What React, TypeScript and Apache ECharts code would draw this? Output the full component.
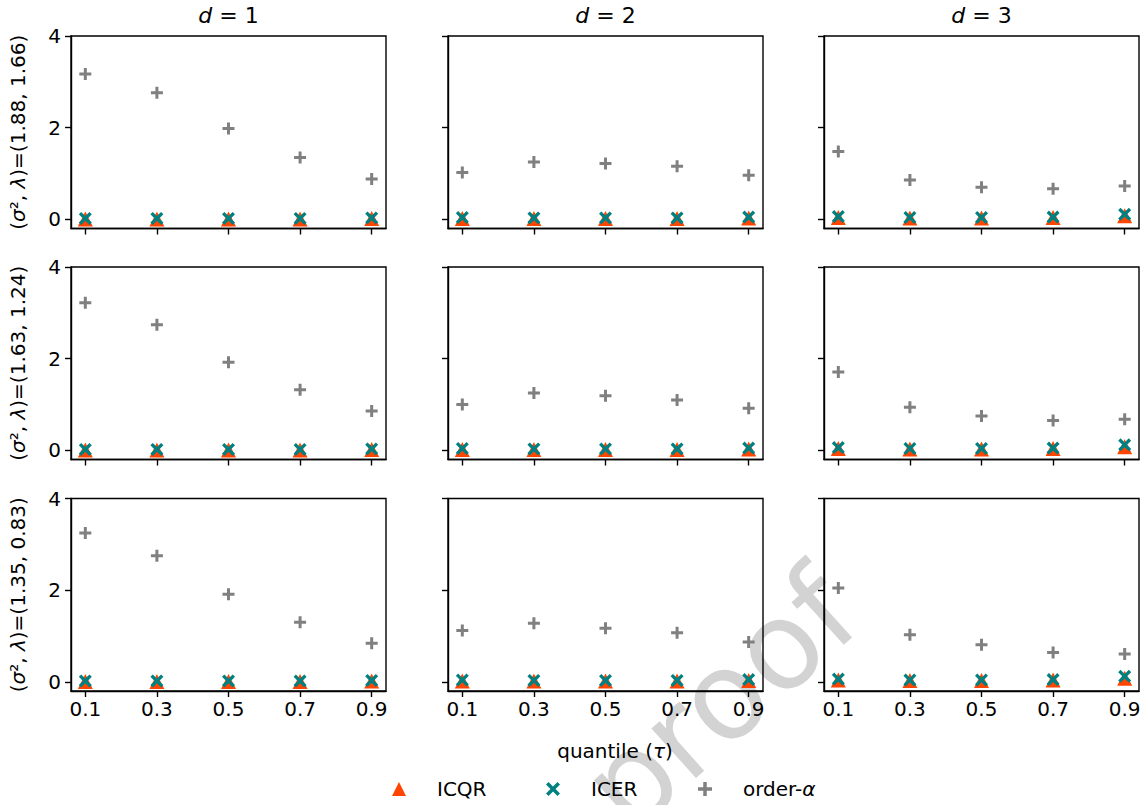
import React, { useEffect, useRef } from "react";
import * as echarts from "echarts";

const taus = [0.1, 0.3, 0.5, 0.7, 0.9];
const tickValsX = [0.1, 0.3, 0.5, 0.7, 0.9];
const tickValsY = [0, 2, 4];
const dimTitles = ["1", "2", "3"];
const rowLabels = [
  ["1.88", "1.66"],
  ["1.63", "1.24"],
  ["1.35", "0.83"],
];

// order-alpha values [row][col]
const orderAlpha = [
  [
    [3.17, 2.76, 1.98, 1.35, 0.88],
    [1.02, 1.25, 1.22, 1.16, 0.96],
    [1.48, 0.86, 0.7, 0.67, 0.73],
  ],
  [
    [3.22, 2.74, 1.92, 1.32, 0.86],
    [1.0, 1.25, 1.19, 1.1, 0.92],
    [1.71, 0.94, 0.75, 0.65, 0.68],
  ],
  [
    [3.25, 2.75, 1.91, 1.3, 0.84],
    [1.12, 1.28, 1.17, 1.07, 0.87],
    [2.05, 1.03, 0.81, 0.64, 0.61],
  ],
];

const icqr = [
  [
    [0.01, 0.01, 0.01, 0.01, 0.02],
    [0.02, 0.02, 0.02, 0.02, 0.03],
    [0.04, 0.03, 0.03, 0.04, 0.08],
  ],
  [
    [0.01, 0.01, 0.01, 0.01, 0.02],
    [0.02, 0.02, 0.02, 0.02, 0.03],
    [0.04, 0.03, 0.03, 0.04, 0.08],
  ],
  [
    [0.01, 0.01, 0.01, 0.01, 0.02],
    [0.02, 0.02, 0.02, 0.02, 0.03],
    [0.04, 0.03, 0.03, 0.04, 0.08],
  ],
];

const icer = [
  [
    [0.02, 0.02, 0.02, 0.02, 0.03],
    [0.04, 0.03, 0.03, 0.03, 0.05],
    [0.06, 0.04, 0.04, 0.05, 0.11],
  ],
  [
    [0.02, 0.02, 0.02, 0.02, 0.03],
    [0.04, 0.03, 0.03, 0.03, 0.05],
    [0.06, 0.04, 0.04, 0.05, 0.12],
  ],
  [
    [0.02, 0.02, 0.02, 0.02, 0.03],
    [0.04, 0.03, 0.03, 0.03, 0.05],
    [0.06, 0.04, 0.04, 0.05, 0.12],
  ],
];

const FONT = "DejaVu Sans";
const PLUS =
  "path://M3.75,0H6.25V3.75H10V6.25H6.25V10H3.75V6.25H0V3.75H3.75Z";
const CROSS =
  "path://M0,1.8L1.8,0L5,3.2L8.2,0L10,1.8L6.8,5L10,8.2L8.2,10L5,6.8L1.8,10L0,8.2L3.2,5Z";

const colLefts = [71, 448, 824];
const rowTops = [36, 267, 498.5];
const GW = 315;
const GH = 192.5;

function buildOption() {
  const grid: any[] = [];
  const xAxis: any[] = [];
  const yAxis: any[] = [];
  const series: any[] = [];
  let idx = 0;
  for (let r = 0; r < 3; r++) {
    for (let c = 0; c < 3; c++) {
      grid.push({
        left: colLefts[c],
        top: rowTops[r],
        width: GW,
        height: GH,
        show: true,
        borderColor: "#000",
        borderWidth: 1.4,
        backgroundColor: "transparent",
        z: 3,
      });
      xAxis.push({
        type: "value",
        gridIndex: idx,
        min: 0.06,
        max: 0.94,
        axisLine: { show: true, onZero: false, lineStyle: { color: "#000", width: 1.4 } },
        axisTick: {
          show: true,
          length: 6,
          customValues: tickValsX,
          lineStyle: { color: "#000", width: 1.4 },
        },
        axisLabel: {
          show: r === 2,
          customValues: tickValsX,
          margin: 8,
          color: "#000",
          fontSize: 20,
          fontFamily: FONT,
          formatter: (v: number) => v.toFixed(1),
        },
        splitLine: { show: false },
      });
      const yA: any = {
        type: "value",
        gridIndex: idx,
        min: -0.2,
        max: 4,
        axisLine: { show: true, onZero: false, lineStyle: { color: "#000", width: 1.4 } },
        axisTick: {
          show: true,
          length: 6,
          customValues: tickValsY,
          lineStyle: { color: "#000", width: 1.4 },
        },
        axisLabel: {
          show: c === 0,
          customValues: tickValsY,
          margin: 10,
          color: "#000",
          fontSize: 20,
          fontFamily: FONT,
        },
        splitLine: { show: false },
      };
      if (c === 0) {
        yA.name = `({i|σ}², {i|λ})=(${rowLabels[r][0]}, ${rowLabels[r][1]})`;
        yA.nameLocation = "middle";
        yA.nameRotate = 90;
        yA.nameGap = 43;
        yA.nameTextStyle = {
          color: "#000",
          fontSize: 20,
          fontFamily: FONT,
          rich: { i: { fontStyle: "italic", fontSize: 20, fontFamily: FONT, color: "#000" } },
        };
      }
      yAxis.push(yA);

      series.push({
        name: "ICQR",
        type: "scatter",
        xAxisIndex: idx,
        yAxisIndex: idx,
        symbol: "triangle",
        symbolSize: 15,
        itemStyle: { color: "#FF4500", opacity: 1 },
        data: taus.map((t, i) => [t, icqr[r][c][i]]),
        z: 4,
      });
      series.push({
        name: "ICER",
        type: "scatter",
        xAxisIndex: idx,
        yAxisIndex: idx,
        symbol: CROSS,
        symbolSize: 13,
        itemStyle: { color: "#008080", opacity: 1 },
        data: taus.map((t, i) => [t, icer[r][c][i]]),
        z: 5,
      });
      series.push({
        name: "order-α",
        type: "scatter",
        xAxisIndex: idx,
        yAxisIndex: idx,
        symbol: PLUS,
        symbolSize: 12,
        itemStyle: { color: "#808080", opacity: 1 },
        data: taus.map((t, i) => [t, orderAlpha[r][c][i]]),
        z: 6,
      });
      idx++;
    }
  }

  const legendBase = {
    orient: "horizontal",
    top: 779,
    padding: 0,
    itemWidth: 14,
    itemHeight: 14,
    textStyle: {
      color: "#000",
      fontSize: 20,
      fontFamily: FONT,
      padding: [0, 0, 0, 26],
      rich: { i: { fontStyle: "italic", fontSize: 20, fontFamily: FONT, color: "#000" } },
    },
    selectedMode: false,
  };
  const legend = [
    { ...legendBase, left: 392, data: [{ name: "ICQR", icon: "triangle" }] },
    { ...legendBase, left: 546, data: [{ name: "ICER", icon: CROSS }] },
    {
      ...legendBase,
      left: 698,
      data: [{ name: "order-α", icon: PLUS }],
      formatter: () => "order-{i|α}",
    },
  ];

  const colCenters = colLefts.map((l) => l + GW / 2);
  const graphic: any[] = [
    {
      type: "text",
      x: 720,
      y: 700,
      rotation: (42 * Math.PI) / 180,
      z: -10,
      silent: true,
      style: {
        text: "proof",
        font: `122px ${FONT}`,
        fill: "#d3d3d3",
        align: "center",
        verticalAlign: "middle",
      },
    },
    ...dimTitles.map((d, i) => ({
      type: "text",
      x: colCenters[i],
      y: 15,
      z: 10,
      style: {
        text: `{i|d} = ${d}`,
        fontSize: 22,
        fontFamily: FONT,
        fill: "#000",
        align: "center",
        verticalAlign: "middle",
        rich: { i: { fontStyle: "italic", fontSize: 22, fontFamily: FONT, fill: "#000" } },
      },
    })),
    {
      type: "text",
      x: 615,
      y: 751,
      z: 10,
      style: {
        text: "quantile ({i|τ})",
        fontSize: 20,
        fontFamily: FONT,
        fill: "#000",
        align: "center",
        verticalAlign: "middle",
        rich: { i: { fontStyle: "italic", fontSize: 20, fontFamily: FONT, fill: "#000" } },
      },
    },
  ];

  return {
    animation: false,
    backgroundColor: "#fff",
    grid,
    xAxis,
    yAxis,
    series,
    legend,
    graphic,
  };
}

export default function App() {
  const ref = useRef<HTMLDivElement>(null);
  useEffect(() => {
    if (!ref.current) return;
    const chart = echarts.init(ref.current, undefined, { renderer: "svg" });
    chart.setOption(buildOption() as any);
    return () => chart.dispose();
  }, []);
  return (
    <div
      ref={ref}
      style={{ position: "absolute", left: 0, top: 0, width: 1145, height: 805 }}
    />
  );
}
